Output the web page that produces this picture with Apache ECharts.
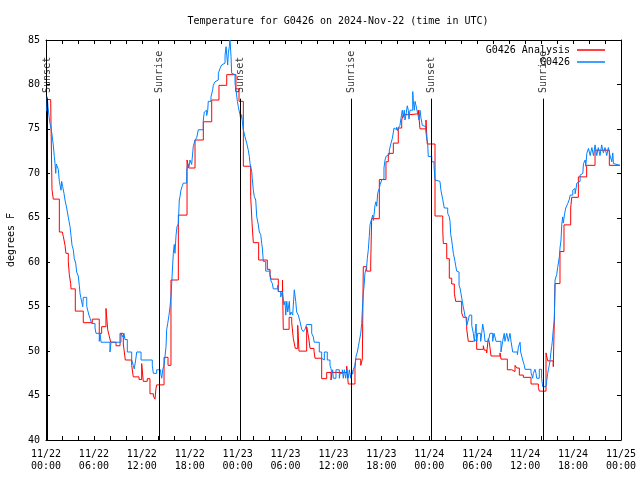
<!DOCTYPE html>
<html><head><meta charset="utf-8">
<script src="https://cdn.jsdelivr.net/npm/echarts@6/dist/echarts.min.js"></script>
<style>html,body{margin:0;padding:0;background:#fff}#c{width:640px;height:480px}</style>
</head><body><div id="c"></div>
<script>
// hours since 2024-11-22 00:00 UTC, temperature (F)
const analysisPoints = [[0.13,78.3],[0.59,77.9],[0.75,68.2],[0.91,67.1],[1.67,63.4],[2.04,63.2],[2.17,62.9],[2.38,61.9],[2.50,61.0],[2.79,60.1],[2.92,58.6],[3.09,57.6],[3.13,57.0],[3.67,54.5],[4.67,53.2],[5.80,53.6],[6.67,52.0],[6.97,52.75],[7.51,54.8],[7.73,52.4],[7.89,51.8],[8.10,51.0],[8.77,50.6],[9.27,52.0],[9.68,50.8],[9.93,49.0],[10.73,48.4],[10.93,47.1],[11.65,46.8],[11.98,48.6],[12.18,46.6],[12.68,46.9],[13.02,45.2],[13.44,44.95],[13.65,44.6],[13.77,45.8],[13.86,46.2],[14.78,49.3],[15.28,48.4],[15.65,58.0],[16.57,65.3],[17.66,71.5],[17.87,70.6],[18.66,73.75],[19.70,75.8],[20.75,78.25],[21.66,79.9],[22.63,81.1],[23.79,79.5],[24.17,78.1],[24.71,70.8],[25.63,67.4],[25.80,64.4],[25.96,62.2],[26.63,60.25],[27.71,59.2],[28.05,58.6],[28.18,58.1],[29.09,56.7],[29.61,58.0],[29.71,52.45],[30.44,53.8],[30.77,53.2],[30.97,51.4],[31.22,50.3],[31.52,52.9],[31.68,50.0],[32.64,52.75],[32.89,51.5],[33.06,50.3],[33.56,50.0],[33.68,49.2],[34.52,46.9],[35.15,47.6],[35.69,46.75],[35.81,47.6],[37.65,48.3],[37.85,46.3],[38.69,48.1],[38.78,49.1],[39.41,48.4],[39.61,49.1],[39.73,59.5],[40.15,59.0],[40.66,59.9],[40.78,64.9],[41.74,69.3],[42.57,71.3],[42.86,72.25],[43.49,73.4],[44.11,75.1],[44.54,76.0],[44.74,76.6],[45.58,76.7],[46.62,77.1],[46.83,75.0],[47.58,76.0],[47.74,73.3],[48.71,65.2],[49.68,63.6],[49.75,62.1],[50.18,60.4],[50.50,58.2],[50.80,57.55],[51.13,56.5],[51.30,55.6],[52.05,54.3],[52.25,53.8],[52.68,52.45],[52.88,51.1],[53.51,51.3],[53.93,50.2],[54.76,50.6],[54.88,50.1],[55.18,49.8],[55.38,51.4],[55.51,51.0],[55.72,49.45],[56.85,49.8],[56.97,49.1],[57.77,47.9],[58.32,47.7],[58.73,48.4],[58.94,48.1],[59.27,47.3],[59.77,47.05],[60.73,46.3],[61.65,45.9],[61.77,45.5],[62.61,49.8],[62.82,48.9],[63.52,48.25],[63.65,53.5],[63.74,57.6],[64.36,61.2],[64.86,64.2],[65.70,66.1],[65.83,67.3],[66.66,69.6],[67.70,70.9],[68.75,72.6],[70.54,70.9],[71.87,70.9]];

const obsPoints = [[0.09,77.0],[0.16,78.6],[0.25,77.5],[0.38,76.4],[0.50,75.6],[0.63,75.1],[0.79,74.1],[0.91,73.2],[1.04,71.9],[1.13,71.1],[1.22,70.0],[1.29,71.05],[1.54,70.45],[1.67,69.1],[1.88,68.1],[1.96,69.1],[2.09,68.5],[2.25,67.75],[2.38,67.0],[2.59,66.1],[2.79,65.05],[3.01,64.0],[3.13,63.0],[3.26,61.9],[3.42,61.4],[3.54,60.4],[3.72,59.9],[3.84,58.9],[4.04,58.45],[4.17,57.4],[4.26,56.5],[4.35,56.05],[4.60,55.0],[4.67,56.05],[5.10,55.05],[5.22,54.6],[5.38,54.05],[5.51,53.7],[5.72,53.1],[6.14,52.6],[6.26,52.0],[6.67,51.1],[6.76,52.0],[6.89,51.0],[8.01,49.9],[8.14,51.0],[9.39,52.0],[9.58,51.6],[9.77,52.0],[9.89,51.3],[10.18,49.9],[10.73,49.0],[10.93,48.4],[11.05,48.0],[11.23,49.0],[11.36,49.9],[11.90,49.0],[13.31,48.4],[13.44,47.5],[13.86,47.9],[14.36,47.5],[14.49,46.95],[14.61,47.9],[14.78,48.4],[14.90,49.4],[15.03,50.5],[15.11,52.4],[15.24,53.1],[15.40,54.05],[15.53,55.0],[15.65,56.1],[15.74,57.6],[15.94,61.0],[16.06,62.0],[16.15,61.0],[16.28,63.0],[16.40,64.0],[16.57,64.3],[16.69,67.0],[16.78,67.4],[16.90,68.1],[17.03,68.5],[17.19,68.9],[17.62,70.2],[17.74,71.1],[17.91,70.75],[18.03,71.5],[18.24,71.0],[18.44,73.0],[18.66,73.75],[18.87,74.0],[19.07,74.9],[19.70,76.0],[19.82,76.9],[20.00,77.1],[20.12,76.5],[20.25,77.1],[20.32,78.1],[20.66,78.6],[20.87,79.4],[20.95,79.9],[21.16,80.3],[21.37,80.5],[21.58,81.25],[21.79,81.8],[22.00,82.2],[22.21,82.4],[22.42,83.3],[22.55,84.25],[22.63,83.3],[22.75,82.2],[22.83,83.5],[22.95,84.25],[23.04,85.0],[23.17,83.1],[23.25,81.25],[23.45,81.1],[23.67,80.1],[23.79,79.4],[23.96,78.1],[24.08,77.5],[24.29,76.6],[24.38,76.1],[24.50,76.6],[24.63,75.4],[24.71,74.9],[24.92,74.1],[25.13,73.4],[25.33,72.6],[25.46,71.9],[25.55,71.1],[25.76,70.2],[25.83,69.4],[25.96,68.1],[26.08,67.4],[26.26,67.0],[26.39,65.1],[26.59,64.2],[26.71,63.4],[26.89,63.1],[27.01,62.1],[27.09,61.6],[27.21,60.1],[27.51,59.0],[28.05,58.4],[28.18,57.9],[28.34,57.6],[28.46,57.0],[29.01,57.4],[29.09,56.7],[29.39,56.1],[29.59,56.7],[29.80,55.2],[29.93,55.6],[30.02,54.05],[30.15,55.6],[30.27,54.4],[30.47,55.6],[30.55,54.05],[30.68,54.4],[30.89,54.05],[30.97,55.2],[31.09,56.9],[31.27,55.6],[31.39,54.4],[31.59,54.05],[31.81,53.3],[32.02,52.45],[32.22,52.2],[32.43,52.45],[32.64,53.0],[33.27,52.0],[33.47,51.6],[33.59,51.0],[34.22,49.9],[34.52,49.2],[34.73,49.0],[34.85,49.9],[35.22,49.0],[35.56,48.4],[35.69,48.05],[35.77,47.5],[35.90,47.9],[35.97,46.95],[36.31,47.9],[36.73,46.95],[36.81,47.5],[37.11,47.9],[37.23,46.95],[37.36,47.9],[37.53,46.95],[37.65,47.9],[37.85,46.95],[37.98,47.9],[38.16,46.95],[38.28,47.9],[38.40,47.4],[38.48,47.9],[38.69,48.4],[38.82,49.4],[38.98,49.9],[39.11,50.5],[39.23,51.1],[39.41,52.0],[39.53,53.1],[39.61,54.6],[39.73,56.5],[39.82,57.25],[39.94,58.75],[40.15,59.5],[40.23,60.4],[40.36,61.4],[40.48,62.9],[40.57,64.2],[40.78,64.9],[40.91,65.3],[40.99,64.7],[41.07,65.3],[41.20,66.4],[41.32,66.8],[41.41,66.3],[41.53,67.75],[41.61,68.0],[41.74,68.3],[41.82,68.7],[42.04,69.25],[42.20,69.4],[42.32,70.6],[42.45,71.5],[42.57,71.9],[42.74,72.1],[42.99,72.6],[43.20,73.4],[43.36,73.9],[43.58,75.1],[43.70,74.9],[43.91,75.2],[44.04,74.8],[44.11,75.1],[44.32,75.4],[44.45,76.2],[44.61,77.1],[44.74,76.3],[44.86,77.1],[44.95,76.0],[45.08,76.6],[45.24,77.6],[45.37,77.1],[45.45,76.1],[45.58,77.1],[45.92,79.2],[46.00,78.1],[46.12,77.1],[46.21,78.1],[46.34,77.6],[46.50,76.9],[46.62,77.1],[46.71,76.0],[46.83,77.1],[46.96,76.2],[47.12,75.4],[47.24,75.6],[47.37,75.25],[47.54,74.9],[47.67,73.9],[47.79,73.4],[47.87,71.9],[48.30,71.3],[48.59,70.9],[48.62,70.4],[48.71,69.25],[48.83,69.1],[49.33,68.9],[49.46,68.05],[49.67,67.1],[49.87,66.1],[50.30,65.5],[50.50,65.1],[50.59,64.6],[50.68,63.1],[50.80,62.5],[50.88,61.9],[51.01,61.0],[51.21,60.1],[51.30,59.6],[51.43,59.0],[51.63,58.9],[51.72,57.4],[51.84,57.1],[51.96,56.5],[52.05,56.3],[52.13,55.6],[52.25,55.0],[52.38,54.4],[52.46,53.95],[52.59,53.7],[52.68,52.9],[52.88,53.5],[53.01,54.05],[53.31,52.9],[53.51,52.0],[53.64,51.1],[53.73,52.0],[53.85,53.05],[53.93,51.1],[54.06,52.0],[54.43,51.1],[54.56,52.0],[54.68,53.05],[54.88,52.0],[54.97,51.1],[55.38,51.2],[55.60,52.0],[55.93,51.1],[56.10,52.0],[56.35,51.1],[56.97,49.9],[57.18,51.1],[57.38,52.0],[57.47,51.1],[57.69,52.0],[57.89,51.1],[58.10,52.0],[58.23,51.1],[58.44,49.9],[59.03,49.6],[59.15,50.45],[59.36,51.0],[59.44,49.9],[59.57,49.7],[59.69,49.0],[59.89,48.4],[59.98,47.95],[60.73,47.6],[60.94,46.95],[61.02,47.5],[61.23,47.95],[61.36,47.5],[61.44,46.95],[61.77,47.95],[62.06,46.95],[62.19,46.0],[62.60,46.0],[62.69,46.6],[62.82,47.5],[62.90,47.9],[63.02,48.4],[63.11,48.9],[63.23,49.9],[63.32,50.5],[63.40,51.1],[63.52,52.45],[63.65,53.5],[63.74,58.0],[63.95,58.6],[64.07,59.4],[64.28,60.6],[64.36,61.6],[64.49,62.5],[64.58,64.2],[64.70,65.1],[64.78,64.4],[64.91,65.3],[65.08,66.1],[65.21,66.3],[65.33,66.6],[65.54,67.1],[65.63,67.55],[65.96,68.1],[66.13,68.3],[66.25,67.7],[66.38,68.3],[66.47,68.9],[66.59,69.1],[66.88,69.8],[67.09,70.0],[67.22,70.2],[67.30,71.1],[67.51,71.5],[67.59,70.8],[67.72,72.25],[67.93,72.8],[68.14,72.0],[68.35,72.9],[68.55,72.0],[68.75,73.2],[68.96,72.0],[69.16,72.9],[69.37,72.0],[69.58,73.2],[69.79,72.3],[70.00,72.9],[70.21,72.0],[70.42,72.9],[70.63,72.0],[70.85,71.3],[70.97,72.3],[71.05,71.1],[71.17,70.9],[71.87,70.9]];

const sunsetHours = [0.19, 24.38, 48.30];
const sunriseHours = [14.19, 38.28, 62.32];
const yMin = 40, yMax = 85, yStep = 5;
const xMin = 0, xMax = 72, xTickStep = 2, xLabelStep = 6;
const seriesNames = ['G0426 Analysis', 'G0426'];
const seriesColors = ['#ff0000', '#0080ff'];
const titleText = 'Temperature for G0426 on 2024-Nov-22 (time in UTC)';
const yAxisTitle = 'degrees F';

const FONT = 'DejaVu Sans Mono';
function xLabel(h) {
  if (Math.abs(h % xLabelStep) > 1e-6) return '';
  const d = 22 + Math.floor(h / 24);
  const hh = h % 24;
  return '11/' + d + '\n' + (hh < 10 ? '0' : '') + hh + ':00';
}
const sunLineTop = 78.4, sunLabelBase = 78.93;
const sunEvents = [];
sunsetHours.forEach(h => sunEvents.push([h, sunLabelBase, 'Sunset']));
sunriseHours.forEach(h => sunEvents.push([h, sunLabelBase, 'Sunrise']));

const chart = echarts.init(document.getElementById('c'), null, {renderer: 'canvas'});
const axisCommon = {
  axisLine: {show: true, onZero: false, lineStyle: {color: '#000', width: 1}},
  axisTick: {show: true, inside: true, length: 4, lineStyle: {color: '#000', width: 1}},
  splitLine: {show: false}
};
chart.setOption({
  animation: false,
  backgroundColor: '#fff',
  title: {text: titleText, left: 333, top: 11, textAlign: 'center',
    textStyle: {fontFamily: FONT, fontSize: 10, fontWeight: 'normal', color: '#000'}},
  legend: {
    data: seriesNames.map(n => ({name: n, icon: 'rect'})),
    orient: 'vertical', right: 30, top: 39, align: 'right',
    itemWidth: 28, itemHeight: 1.5, itemGap: 0,
    textStyle: {fontFamily: FONT, fontSize: 10, color: '#000', lineHeight: 12, padding: [0, 2, 0, 0]}
  },
  grid: {left: 46, right: 19, top: 40, bottom: 40, containLabel: false, outerBoundsMode: 'none'},
  xAxis: [
    Object.assign({type: 'value', min: xMin, max: xMax, interval: xTickStep, position: 'bottom',
      axisLabel: {formatter: xLabel, fontFamily: FONT, fontSize: 10, color: '#000', margin: 8, lineHeight: 12,
        showMinLabel: true, showMaxLabel: true, hideOverlap: false}}, axisCommon),
    Object.assign({type: 'value', min: xMin, max: xMax, interval: xTickStep, position: 'top',
      axisLabel: {show: false}}, axisCommon)
  ],
  yAxis: [
    Object.assign({type: 'value', min: yMin, max: yMax, interval: yStep, position: 'left',
      name: yAxisTitle, nameLocation: 'middle', nameGap: 30,
      nameTextStyle: {fontFamily: FONT, fontSize: 10, color: '#000'},
      axisLabel: {fontFamily: FONT, fontSize: 10, color: '#000', margin: 6}}, axisCommon),
    Object.assign({type: 'value', min: yMin, max: yMax, interval: yStep, position: 'right',
      axisLabel: {show: false}}, axisCommon)
  ],
  series: [
    {name: seriesNames[0], type: 'line', step: 'end', data: analysisPoints, showSymbol: false, symbol: 'none',
      lineStyle: {color: seriesColors[0], width: 1}, itemStyle: {color: seriesColors[0]}, z: 3},
    {name: seriesNames[1], type: 'line', step: 'end', data: obsPoints, showSymbol: false, symbol: 'none',
      lineStyle: {color: seriesColors[1], width: 1}, itemStyle: {color: seriesColors[1]}, z: 4},
    {name: 'sun', type: 'scatter', data: sunEvents, symbolSize: 0, silent: true, z: 2,
      label: {show: true, formatter: p => p.value[2], position: 'inside', rotate: 90, align: 'left',
        verticalAlign: 'middle', fontFamily: FONT, fontSize: 10, color: '#000', offset: [1, 0]},
      markLine: {silent: true, symbol: 'none', label: {show: false},
        lineStyle: {color: '#000', width: 1, type: 'solid'},
        data: sunEvents.map(e => [{coord: [e[0], yMin]}, {coord: [e[0], sunLineTop]}])}
    }
  ]
});
</script>
</body></html>
